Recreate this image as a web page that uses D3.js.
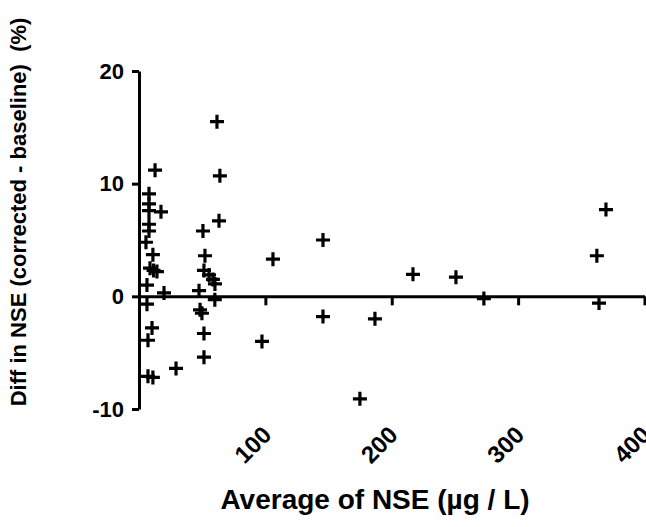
<!DOCTYPE html>
<html>
<head>
<meta charset="utf-8">
<script src="https://cdn.jsdelivr.net/npm/d3@7"></script>
<style>
  html, body { margin: 0; padding: 0; background: #fff; }
  text { font-family: "Liberation Sans", Arial, sans-serif; font-weight: bold; fill: #000; }
</style>
</head>
<body>
<svg id="chart" width="646" height="527"></svg>
<script>
// Average of NSE (µg/L)
const avgNSE = [
  12.7, 7.9, 7.9, 7.9, 17.4, 7.9, 7.9, 5.5, 11.0, 8.7, 11.5, 14.2, 6.3, 19.8, 6.3, 10.3, 7.1, 7.1, 11.0, 29.3,
  61.7, 64.0, 63.3, 50.6, 52.2, 51.4, 55.4, 58.5, 60.1, 47.5, 60.0, 48.3, 49.8, 51.4, 51.4,
  106.0, 145.6, 145.6, 97.3, 216.8, 250.8, 272.9, 186.7, 174.8, 362.3, 364.0, 369.5
];
// Diff in NSE (corrected - baseline) (%)
const diffNSE = [
  11.2, 9.1, 8.2, 7.6, 7.5, 6.4, 5.8, 4.8, 3.7, 2.5, 2.3, 2.2, 1.0, 0.3, -0.7, -2.8, -3.9, -7.1, -7.2, -6.4,
  15.5, 10.7, 6.7, 5.8, 3.6, 2.3, 1.9, 1.5, 1.1, 0.5, -0.3, -1.2, -1.5, -3.3, -5.4,
  3.3, 5.0, -1.8, -4.0, 1.95, 1.7, -0.2, -2.0, -9.1, 3.6, -0.6, 7.7
];
const xTicks = [100, 200, 300, 400];
const yTicks = [-10, 0, 10, 20];
const xTitle = "Average of NSE (\u00B5g / L)";
const yTitle = "Diff in NSE (corrected - baseline)  (%)";

const svg = d3.select("#chart");
const x = d3.scaleLinear().domain([0, 400]).range([139, 644.5]);
const y = d3.scaleLinear().domain([-10, 20]).range([409, 71]);

// Y axis
const yAxis = svg.append("g")
  .attr("transform", `translate(${x(0)},0)`)
  .call(d3.axisLeft(y).tickValues(yTicks).tickFormat(d => String(d)).tickSize(7).tickSizeOuter(0).tickPadding(8));
yAxis.select(".domain").attr("stroke", "#000").attr("stroke-width", 3);
yAxis.selectAll(".tick line").attr("stroke", "#000").attr("stroke-width", 3);
yAxis.selectAll(".tick text")
  .style("font-family", '"Liberation Sans", Arial, sans-serif')
  .style("font-weight", "bold")
  .style("font-size", "22px")
  .attr("fill", "#000");

// X axis at y = 0
const xAxis = svg.append("g")
  .attr("transform", `translate(0,${y(0)})`)
  .call(d3.axisBottom(x).tickValues(xTicks).tickFormat(d => String(d)).tickSize(9).tickSizeOuter(0));
xAxis.select(".domain").attr("stroke", "#000").attr("stroke-width", 3);
xAxis.selectAll(".tick line").attr("stroke", "#000").attr("stroke-width", 3);
xAxis.selectAll(".tick text")
  .attr("x", 0).attr("y", 0).attr("dy", 0)
  .attr("text-anchor", "end")
  .attr("transform", "translate(7,140) rotate(-45)")
  .style("font-family", '"Liberation Sans", Arial, sans-serif')
  .style("font-weight", "bold")
  .style("font-size", "24px")
  .attr("fill", "#000");

// Points (plus markers)
const pts = avgNSE.map((v, i) => ({ x: v, y: diffNSE[i] }));
svg.append("g").selectAll("path.pt").data(pts).join("path")
  .attr("class", "pt")
  .attr("transform", d => `translate(${x(d.x)},${y(d.y)})`)
  .attr("d", "M-7,0H7M0,-7V7")
  .attr("stroke", "#000")
  .attr("stroke-width", 3.2)
  .attr("fill", "none");

// Titles
svg.append("text")
  .attr("x", 375).attr("y", 509)
  .attr("text-anchor", "middle")
  .style("font-size", "28px")
  .text(xTitle);

svg.append("text")
  .attr("transform", "translate(26,212) rotate(-90)")
  .attr("text-anchor", "middle")
  .style("font-size", "22px")
  .style("white-space", "pre")
  .text(yTitle);
</script>
</body>
</html>
